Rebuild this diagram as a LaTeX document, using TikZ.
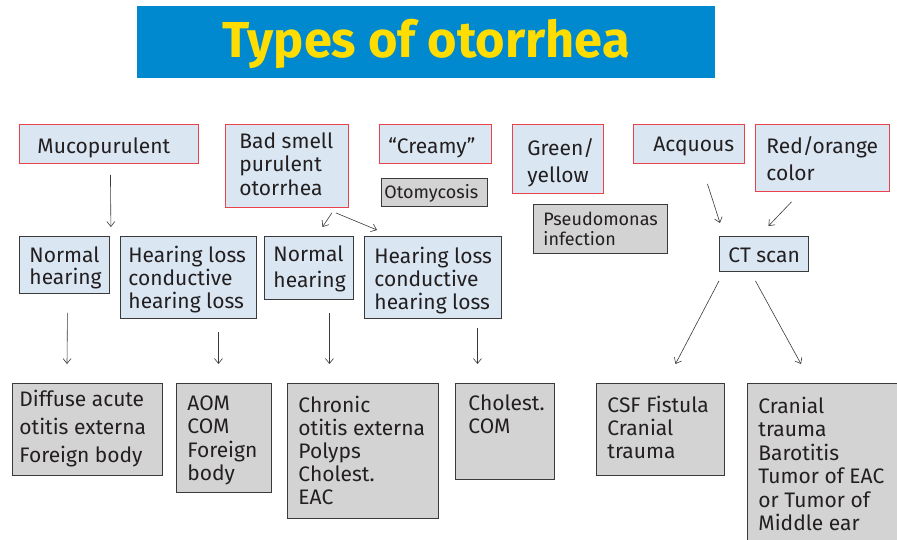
\documentclass[tikz,border=0pt]{standalone}
\usepackage{fontspec}
\setmainfont{Fira Sans}
\usetikzlibrary{arrows.meta,calc}
\definecolor{lblue}{HTML}{DAE7F3}
\definecolor{rborder}{HTML}{E8424C}
\definecolor{gfill}{HTML}{D3D3D3}
\definecolor{dborder}{HTML}{3A3A3A}
\definecolor{tblue}{HTML}{0089CF}
\definecolor{tyellow}{HTML}{FFDD00}
\definecolor{txt}{HTML}{231F20}
% #1 width, #2 height, #3 left pad, #4 top pad, #5 font size, #6 leading, #7 text
\newcommand\bxt[7]{\parbox[c][#2pt][t]{#1pt}{\raggedright\fontsize{#5pt}{#6pt}\selectfont\leftskip=#3pt\relax\vspace*{#4pt}\noindent\rule{0pt}{18pt}#7}}
\begin{document}
\begin{tikzpicture}[x=1pt,y=-1pt,
  lb/.style={draw=rborder, fill=lblue, line width=0.9pt, inner sep=0pt, anchor=north west, text=txt},
  db/.style={draw=dborder, fill=lblue, line width=0.9pt, inner sep=0pt, anchor=north west, text=txt},
  gb/.style={draw=dborder, fill=gfill, line width=0.9pt, inner sep=0pt, anchor=north west, text=txt},
  arr/.style={draw=dborder, line width=0.6pt, -{Straight Barb[length=5pt,width=8pt]}}]
\useasboundingbox (0,0) rectangle (897,540);
\fill[white] (0,0) rectangle (897,540);
\clip (0,0) rectangle (897,540);
% title
\node[fill=tblue, minimum width=578pt, minimum height=72pt, inner sep=0pt, anchor=north west,
  text height=42pt, text depth=12pt,
  text=tyellow, font=\fontsize{50.5pt}{52pt}\selectfont\bfseries] (title) at (137,6) {Types of otorrhea};
% top row
\node[lb] (muco) at (19,124) {\bxt{179}{39}{18}{11}{21}{23.5}{Mucopurulent}};
\node[lb] (bad) at (225,124) {\bxt{123}{83}{14}{6}{21}{23.5}{Bad smell\\purulent\\otorrhea}};
\node[lb] (cre) at (379,124) {\bxt{112}{39}{9}{11}{21}{23.5}{“Creamy”}};
\node[gb] (oto) at (381,178) {\bxt{106}{28}{3}{2}{18}{19}{Otomycosis}};
\node[lb] (grn) at (512,124) {\bxt{91}{69}{15}{13}{21}{27}{Green/\\yellow}};
\node[lb] (acq) at (633,124) {\bxt{111}{39}{20}{9}{21}{23.5}{Acquous}};
\node[lb] (red) at (755,124) {\bxt{134}{67}{11}{11}{21}{27}{Red/orange\\color}};
\node[gb] (pse) at (533,204) {\bxt{134}{49}{10}{3}{18}{20}{Pseudomonas\\infection}};
% middle row
\node[db] (ct) at (719,236) {\bxt{89}{35}{9}{8}{21}{23.5}{CT scan}};
\node[db] (nh1) at (19,236) {\bxt{90}{57}{10}{8}{21}{22}{Normal\\hearing}};
\node[db] (hl1) at (120,236) {\bxt{136}{82}{8}{8}{21}{23}{Hearing loss\\conductive\\hearing loss}};
\node[db] (nh2) at (264,236) {\bxt{89}{63}{9}{7}{21}{26}{Normal\\hearing}};
\node[db] (hl2) at (364,236) {\bxt{137}{82}{10}{9}{21}{23}{Hearing loss\\conductive\\hearing loss}};
% bottom row
\node[gb] (dif) at (12,383) {\bxt{150}{92}{7}{5}{21}{28}{Diffuse acute\\otitis externa\\Foreign body}};
\node[gb] (aom) at (176,383) {\bxt{95}{109}{11}{9}{21}{23.5}{AOM\\COM\\Foreign\\body}};
\node[gb] (chr) at (287,383) {\bxt{151}{135}{11}{11}{21}{23}{Chronic\\otitis externa\\Polyps\\Cholest.\\EAC}};
\node[gb] (cho) at (455,383) {\bxt{99}{96}{13}{9}{21}{23}{Cholest.\\COM}};
\node[gb] (csf) at (596,383) {\bxt{128}{92}{11}{11}{21}{23}{CSF Fistula\\Cranial\\trauma}};
\node[gb] (cra) at (747,383) {\bxt{160}{170}{11}{12}{21}{23.4}{Cranial\\trauma\\Barotitis\\Tumor of EAC\\or Tumor of\\Middle ear}};
% arrows
\draw[arr] ($(muco.south)+(1.5,11)$) -- ($(nh1.north east)+(1,-9)$);
\draw[arr] ($(bad.south east)+(-17,5)$) -- ($(nh2.north)+(13.5,-9)$);
\draw[arr] ($(bad.south east)+(-13,5)$) -- ($(hl2.north west)+(13,-6)$);
\draw[arr] ($(nh1.south)+(3,19)$) -- ($(dif.north west)+(55,-19)$);
\draw[arr] ($(hl1.south)+(30,13)$) -- ($(aom.north)+(-5.5,-19)$);
\draw[arr] ($(nh2.south)+(20.5,13)$) -- ($(chr.north)+(-33.5,-19)$);
\draw[arr] ($(hl2.south)+(44.5,9)$) -- ($(cho.north)+(-27.5,-19)$);
\draw[arr] ($(acq.south)+(18.5,20)$) -- ($(ct.north west)+(1,-13)$);
\draw[arr] ($(red.south)+(-31,10)$) -- ($(ct.north)+(4.5,-10)$);
\draw[arr] ($(ct.south west)+(0,9)$) -- ($(csf.north)+(15,-19)$);
\draw[arr] ($(ct.south)+(-8.5,9)$) -- ($(cra.north west)+(54,-19)$);
\end{tikzpicture}
\end{document}
